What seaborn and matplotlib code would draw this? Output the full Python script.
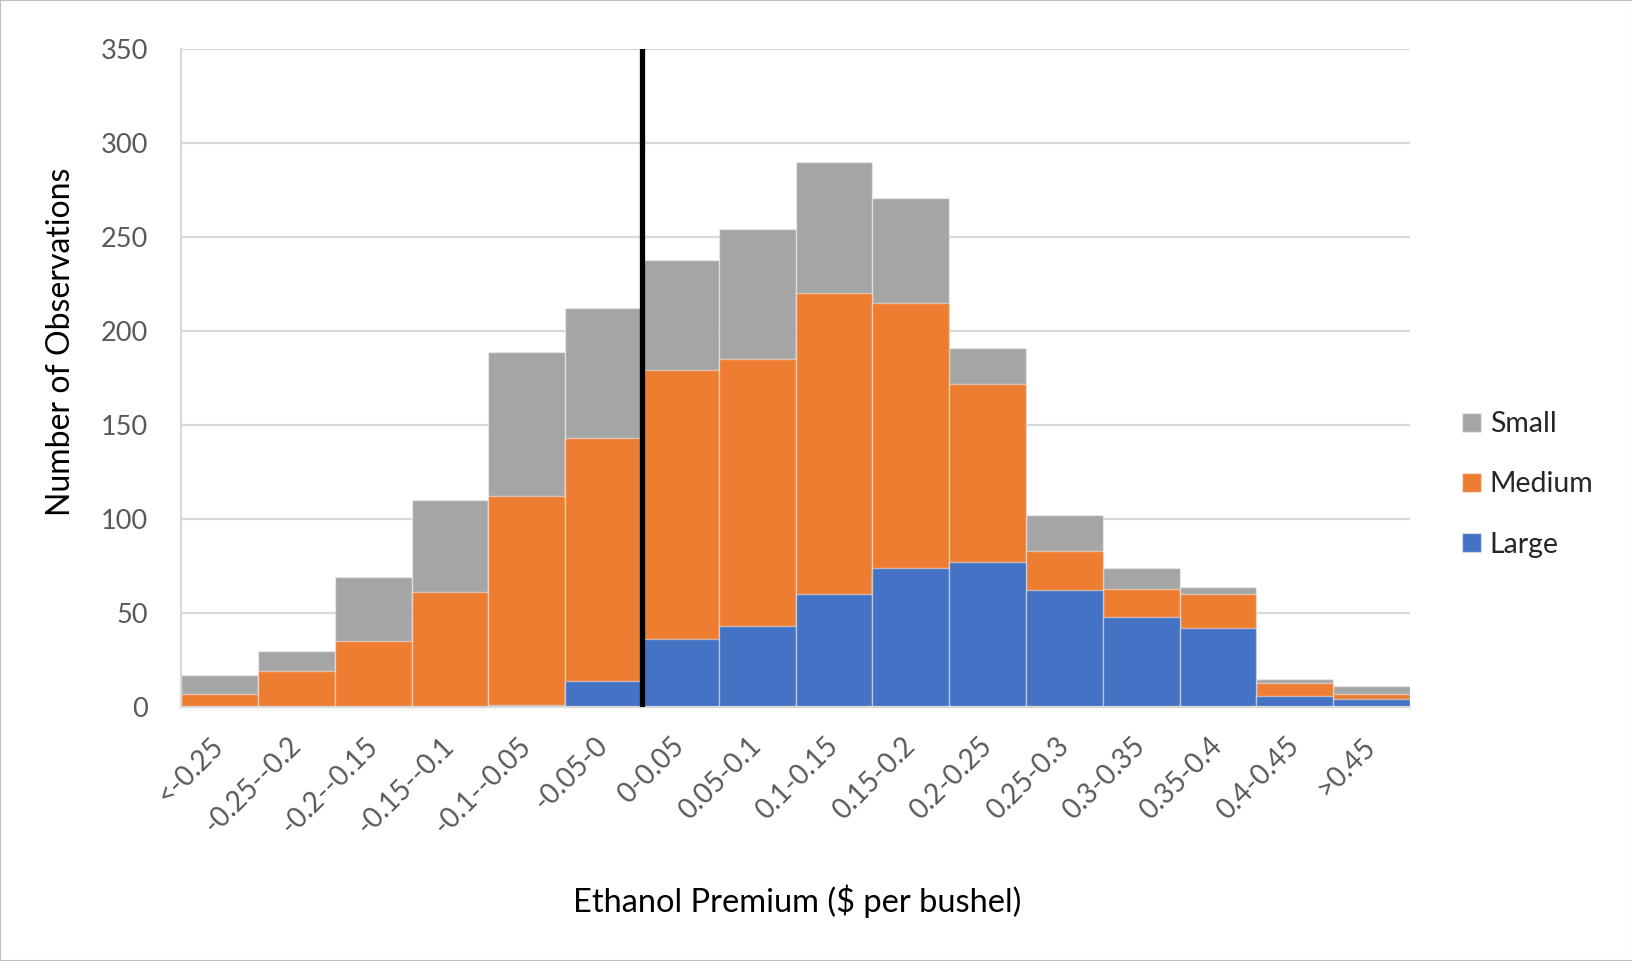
import pandas as pd
import seaborn as sns
import matplotlib.pyplot as plt
from matplotlib.patches import Rectangle


# ======================================
# DATA
# ======================================

BINS = [
    "<-0.25",
    "-0.25--0.2",
    "-0.2--0.15",
    "-0.15--0.1",
    "-0.1--0.05",
    "-0.05-0",
    "0-0.05",
    "0.05-0.1",
    "0.1-0.15",
    "0.15-0.2",
    "0.2-0.25",
    "0.25-0.3",
    "0.3-0.35",
    "0.35-0.4",
    "0.4-0.45",
    ">0.45"
]

large = [0, 0, 0, 0, 1, 14, 36, 43, 60, 74, 77, 62, 48, 42, 6, 4]
medium = [7, 19, 35, 61, 111, 129, 143, 142, 160, 141, 95, 21, 15, 18, 7, 3]
small = [10, 11, 34, 49, 77, 69, 59, 69, 70, 56, 19, 19, 11, 4, 2, 4]

ZERO_BIN = "0-0.05"


# ======================================
# BUILD STACKS
# ======================================

df = pd.DataFrame({
    "bin": BINS,
    "Large": large,
    "Medium": medium,
    "Small": small
})

df["top_large"] = df["Large"]
df["top_medium"] = df["Large"] + df["Medium"]
df["top_small"] = df["top_medium"] + df["Small"]


# ======================================
# STYLE
# ======================================

sns.set_style("white")
plt.rcParams["font.family"] = ["Lato", "DejaVu Sans"]

GRAY = "#A5A5A5"
ORANGE = "#ED7D31"
BLUE = "#4472C4"
TEXT = "#595959"


# ======================================
# CHART
# ======================================

fig = plt.figure(figsize=(16.33, 9.61), dpi=100)

ax = fig.add_axes([0.111, 0.2643, 0.7525, 0.6847])

edge = (1, 1, 1, 0.45)

for col, color, name in [
    ("top_small", GRAY, "Small"),
    ("top_medium", ORANGE, "Medium"),
    ("top_large", BLUE, "Large")
]:
    sns.barplot(
        data=df,
        x="bin",
        y=col,
        order=BINS,
        color=color,
        width=1.0,
        errorbar=None,
        edgecolor=edge,
        linewidth=1,
        label=name,
        saturation=1,
        ax=ax,
        zorder=2
    )

# line at zero premium
ax.axvline(
    BINS.index(ZERO_BIN) - 0.5,
    ymin=0,
    ymax=1,
    color="black",
    linewidth=3.8,
    zorder=3
)

ax.set_xlim(-0.5, len(BINS) - 0.5)
ax.set_ylim(0, 350)
ax.set_yticks(range(0, 351, 50))

ax.grid(axis="y", color="#D9D9D9", linewidth=1.6, zorder=0)
ax.set_axisbelow(True)

for side in ["top", "right"]:
    ax.spines[side].set_visible(False)
for side in ["left", "bottom"]:
    ax.spines[side].set_color("#D9D9D9")
    ax.spines[side].set_linewidth(1.6)

ax.tick_params(axis="both", length=0, colors=TEXT)
ax.tick_params(axis="y", pad=24, labelsize=19.5)
ax.tick_params(axis="x", pad=25, labelsize=20)

plt.setp(
    ax.get_xticklabels(),
    rotation=45,
    ha="right",
    va="center",
    rotation_mode="anchor"
)

ax.set_ylabel("Number of Observations", fontsize=23, color="black")
ax.yaxis.set_label_coords(-0.086, 0.555)

ax.set_xlabel("Ethanol Premium ($ per bushel)", fontsize=23.5, color="black")
ax.xaxis.set_label_coords(0.501, -0.270)
ax.xaxis.label.set_va("top")

ax.legend(
    loc="center left",
    bbox_to_anchor=(0.8885, 0.496),
    bbox_transform=fig.transFigure,
    frameon=False,
    fontsize=20.5,
    handlelength=0.66,
    handleheight=0.66,
    handletextpad=0.3,
    labelspacing=1.2,
    borderaxespad=0
)

# thin frame around the figure
fig.patches.append(
    Rectangle(
        (0, 0), 1, 1,
        transform=fig.transFigure,
        fill=False,
        edgecolor="#BFBFBF",
        linewidth=1.5
    )
)

fig.savefig("out.png", dpi=100)
